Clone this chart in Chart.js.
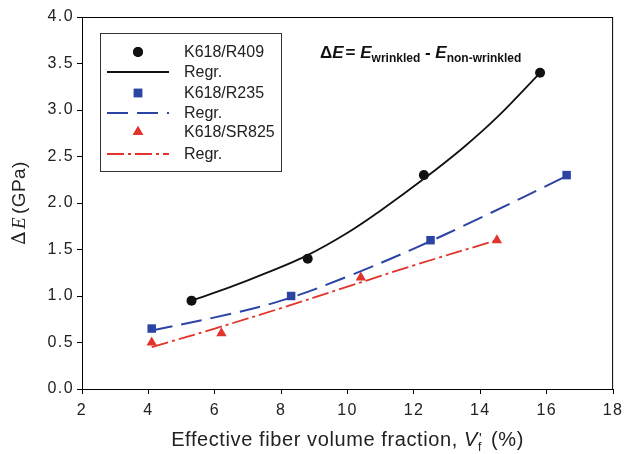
<!DOCTYPE html>
<html>
<head>
<meta charset="utf-8">
<script src="https://cdn.jsdelivr.net/npm/chart.js@4/dist/chart.umd.min.js"></script>
<style>
  html, body { margin: 0; padding: 0; background: #fff; }
  #wrap { width: 629px; height: 454px; }
</style>
</head>
<body>
<div id="wrap"><canvas id="c" width="629" height="454"></canvas></div>
<script>
// measured points
const r409X = [5.3, 8.8, 12.3, 15.8];
const r409Y = [0.95, 1.4, 2.3, 3.4];
const r235X = [4.1, 8.3, 12.5, 16.6];
const r235Y = [0.65, 1.0, 1.6, 2.3];
const sr825X = [4.1, 6.2, 10.4, 14.5];
const sr825Y = [0.5, 0.6, 1.2, 1.6];

// regression curves
const r409RegX = [5.3, 6.5, 7.5, 8.8, 10.0, 11.0, 12.3, 13.5, 14.5, 15.8];
const r409RegY = [0.95, 1.10, 1.24, 1.44, 1.68, 1.92, 2.26, 2.60, 2.92, 3.40];
const r235RegX = [4.1, 6.0, 8.0, 10.0, 12.0, 14.0, 16.6];
const r235RegY = [0.63, 0.77, 0.95, 1.21, 1.51, 1.84, 2.29];
const sr825RegX = [4.1, 6.0, 8.0, 10.0, 12.0, 14.5];
const sr825RegY = [0.45, 0.65, 0.87, 1.10, 1.33, 1.60];

const xTicks = [2, 4, 6, 8, 10, 12, 14, 16, 18];
const yTicks = [0, 0.5, 1, 1.5, 2, 2.5, 3, 3.5, 4];

const BLACK = '#111111';
const BLUE = '#2c44a4';
const RED = '#e2342a';
const SANS = '"Liberation Sans", Arial, sans-serif';

const pts = (xs, ys) => xs.map((x, i) => ({ x, y: ys[i] }));

const legendItems = [
    { label: 'K618/R409', point: 'circle', color: BLACK, r: 5 },
    { label: 'Regr.', line: BLACK, dash: [] },
    { label: 'K618/R235', point: 'rect', color: BLUE, r: 6 },
    { label: 'Regr.', line: BLUE, dash: [21, 9] },
    { label: 'K618/SR825', point: 'triangle', color: RED, r: 6 },
    { label: 'Regr.', line: RED, dash: [17, 4, 3, 4] },
];

function drawRuns(ctx, runs, x, y, align) {
    let total = 0;
    for (const r of runs) {
        ctx.font = r.font;
        if (!r.noAdvance) total += ctx.measureText(r.text).width + (r.gap || 0);
    }
    let cx = align === 'center' ? x - total / 2 : x;
    for (const r of runs) {
        ctx.font = r.font;
        ctx.fillText(r.text, cx + (r.off || 0), y + (r.dy || 0));
        if (!r.noAdvance) cx += ctx.measureText(r.text).width + (r.gap || 0);
    }
}

const decor = {
    id: 'decor',
    beforeDraw(chart) {
        // tick labels in the original are set a little wider
        chart.ctx.letterSpacing = '1.4px';
    },
    beforeDatasetsDraw(chart) {
        chart.ctx.letterSpacing = '0px';
    },
    afterDraw(chart) {
        const { ctx, chartArea: a } = chart;
        ctx.save();
        ctx.letterSpacing = '0px';
        // frame
        ctx.strokeStyle = '#000';
        ctx.lineWidth = 1;
        ctx.strokeRect(a.left + 0.5, a.top + 0.5, a.right - a.left - 1, a.bottom - a.top);

        // legend box
        ctx.strokeStyle = '#333';
        ctx.strokeRect(100.5, 33.5, 181, 138);
        const rows = [52, 72, 93, 113, 132, 154];
        ctx.textBaseline = 'middle';
        legendItems.forEach((it, i) => {
            const y = rows[i];
            if (it.point) {
                ctx.fillStyle = it.color;
                ctx.strokeStyle = it.color;
                Chart.helpers.drawPoint(ctx, { pointStyle: it.point, radius: it.r, rotation: 0, borderWidth: 0 }, 138, y);
                ctx.fill();
            } else {
                ctx.strokeStyle = it.line;
                ctx.lineWidth = 1.8;
                ctx.setLineDash(it.dash);
                ctx.beginPath();
                ctx.moveTo(107, y);
                ctx.lineTo(169, y);
                ctx.stroke();
                ctx.setLineDash([]);
            }
            ctx.fillStyle = '#222';
            ctx.font = '16px ' + SANS;
            ctx.fillText(it.label, 184, y + 1);
        });

        // equation
        ctx.textBaseline = 'alphabetic';
        ctx.fillStyle = '#111';
        drawRuns(ctx, [
            { text: '\u0394', font: 'bold 17px ' + SANS },
            { text: 'E', font: 'bold italic 17px ' + SANS, gap: 2 },
            { text: '= ', font: 'bold 17px ' + SANS },
            { text: 'E', font: 'bold italic 17px ' + SANS },
            { text: 'wrinkled', font: 'bold 12px ' + SANS, dy: 4 },
            { text: ' - ', font: 'bold 17px ' + SANS },
            { text: 'E', font: 'bold italic 17px ' + SANS },
            { text: 'non-wrinkled', font: 'bold 12px ' + SANS, dy: 4 },
        ], 320, 58, 'left');

        // x title
        ctx.fillStyle = '#222';
        ctx.letterSpacing = '0.6px';
        drawRuns(ctx, [
            { text: 'Effective fiber volume fraction, ', font: '20px ' + SANS },
            { text: 'V', font: 'italic 20px ' + SANS },
            { text: "'", font: '14px ' + SANS, dy: -3, noAdvance: true, off: 1 },
            { text: 'f', font: '12px ' + SANS, dy: 5, gap: 3 },
            { text: ' (%)', font: '20px ' + SANS },
        ], (a.left + a.right) / 2, 446, 'center');

        // y title
        ctx.letterSpacing = '0.4px';
        ctx.translate(25, (a.top + a.bottom) / 2);
        ctx.rotate(-Math.PI / 2);
        drawRuns(ctx, [
            { text: '\u2206', font: '19px "DejaVu Serif", serif', gap: 2 },
            { text: 'E', font: 'italic 19px "Liberation Serif", "Times New Roman", serif', gap: 3 },
            { text: '(GPa)', font: '19px ' + SANS },
        ], 0, 0, 'center');
        ctx.restore();
    }
};

const regLine = (xs, ys, color, dash, w) => ({
    type: 'line',
    data: pts(xs, ys),
    borderColor: color,
    borderWidth: w,
    borderDash: dash,
    pointRadius: 0,
    fill: false,
    tension: 0.4,
});

const markers = (xs, ys, color, style, r) => ({
    type: 'scatter',
    data: pts(xs, ys),
    pointStyle: style,
    pointRadius: r,
    pointHoverRadius: r,
    backgroundColor: color,
    borderColor: color,
    borderWidth: 0,
});

new Chart(document.getElementById('c'), {
    type: 'scatter',
    data: {
        datasets: [
            regLine(r409RegX, r409RegY, BLACK, [], 1.8),
            regLine(r235RegX, r235RegY, BLUE, [21, 9], 2),
            regLine(sr825RegX, sr825RegY, RED, [17, 4, 3, 4], 1.8),
            markers(r409X, r409Y, BLACK, 'circle', 5),
            markers(r235X, r235Y, BLUE, 'rect', 6),
            markers(sr825X, sr825Y, RED, 'triangle', 6),
        ],
    },
    options: {
        responsive: false,
        animation: false,
        layout: { padding: { left: 0, top: 17, right: 14, bottom: 0 } },
        plugins: { legend: { display: false }, tooltip: { enabled: false } },
        scales: {
            x: {
                type: 'linear',
                min: 2,
                max: 18,
                afterBuildTicks: (s) => { s.ticks = xTicks.map(v => ({ value: v })); },
                afterFit: (s) => { s.height = 65; },
                grid: { drawOnChartArea: false, drawTicks: true, tickLength: 5, tickColor: '#000' },
                border: { display: true, color: '#000', width: 1 },
                ticks: { color: '#222', font: { family: SANS, size: 16 }, padding: 7, maxRotation: 0 },
            },
            y: {
                type: 'linear',
                min: 0,
                max: 4,
                afterBuildTicks: (s) => { s.ticks = yTicks.map(v => ({ value: v })); },
                afterFit: (s) => { s.width = 82; },
                grid: { drawOnChartArea: false, drawTicks: true, tickLength: 5, tickColor: '#000' },
                border: { display: true, color: '#000', width: 1 },
                ticks: { color: '#222', font: { family: SANS, size: 16 }, padding: 3, callback: (v) => Number(v).toFixed(1) },
            },
        },
    },
    plugins: [decor],
});
</script>
</body>
</html>
